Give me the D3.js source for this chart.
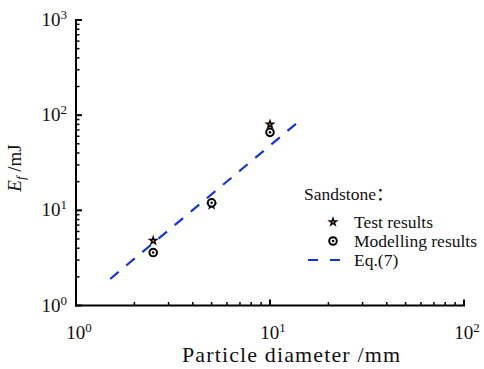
<!DOCTYPE html>
<html>
<head>
<meta charset="utf-8">
<script src="https://cdn.jsdelivr.net/npm/d3@7/dist/d3.min.js"></script>
</head>
<body style="margin:0">
<svg id="chart" width="484" height="369"></svg>
<script>
// Sandstone: fracture energy vs particle diameter
const testDiameters = [2.5, 5, 10];
const testEnergy = [4.8, 11.4, 80];
const modelDiameters = [2.5, 5, 10];
const modelEnergy = [3.6, 12, 66];
const eqDiameters = [1.5, 14];
const eqEnergy = [1.9, 85];
const xTickValues = [1, 10, 100];
const yTickValues = [1, 10, 100, 1000];
const legendTitle = "Sandstone";
const legendLabels = ["Test results", "Modelling results", "Eq.(7)"];

const FONT = "'Liberation Serif', 'Times New Roman', Times, serif";
const svg = d3.select("#chart");
const x = d3.scaleLog().domain([1, 100]).range([76, 464]);
const y = d3.scaleLog().domain([1, 1000]).range([305.5, 20]);
const blue = "#1236d6";

// every label goes through here so it gets the serif face
function label(parent, size) {
  return parent.append("text")
    .attr("font-family", FONT)
    .style("font-family", FONT)
    .attr("font-size", size)
    .attr("fill", "#111");
}

// minor ticks between decades
function minorTicks(dom) {
  const out = [];
  for (let e = Math.log10(dom[0]); e < Math.log10(dom[1]); e++) {
    for (let k = 2; k <= 9; k++) out.push(k * Math.pow(10, e));
  }
  return out;
}

// x axis
const gx = svg.append("g");
gx.append("line").attr("x1", x(1) - 1).attr("x2", x(100) + 1)
  .attr("y1", y(1)).attr("y2", y(1)).attr("stroke", "#000").attr("stroke-width", 2);
gx.selectAll("line.minor").data(minorTicks([1, 100])).join("line")
  .attr("class", "minor")
  .attr("x1", d => x(d)).attr("x2", d => x(d))
  .attr("y1", y(1)).attr("y2", y(1) - 3.5)
  .attr("stroke", "#000").attr("stroke-width", 1.5);
gx.selectAll("line.major").data(xTickValues).join("line")
  .attr("class", "major")
  .attr("x1", d => x(d)).attr("x2", d => x(d))
  .attr("y1", y(1)).attr("y2", y(1) - 6)
  .attr("stroke", "#000").attr("stroke-width", 2);

// y axis
const gy = svg.append("g");
gy.append("line").attr("x1", x(1)).attr("x2", x(1))
  .attr("y1", y(1) + 1).attr("y2", y(1000) - 1).attr("stroke", "#000").attr("stroke-width", 2);
gy.selectAll("line.minor").data(minorTicks([1, 1000])).join("line")
  .attr("class", "minor")
  .attr("x1", x(1)).attr("x2", x(1) + 3.5)
  .attr("y1", d => y(d)).attr("y2", d => y(d))
  .attr("stroke", "#000").attr("stroke-width", 1.5);
gy.selectAll("line.major").data(yTickValues).join("line")
  .attr("class", "major")
  .attr("x1", x(1)).attr("x2", x(1) + 6)
  .attr("y1", d => y(d)).attr("y2", d => y(d))
  .attr("stroke", "#000").attr("stroke-width", 2);

// tick labels as 10^n
function powLabel(t, v) {
  t.append("tspan").text("10");
  t.append("tspan").attr("dy", -7).attr("font-size", 13).text(Math.round(Math.log10(v)));
}
const gxl = svg.append("g");
xTickValues.forEach(v => {
  const t = label(gxl, 19).attr("x", x(v) + 3).attr("y", 339).attr("text-anchor", "middle");
  powLabel(t, v);
});
const gyl = svg.append("g");
yTickValues.forEach(v => {
  const t = label(gyl, 19).attr("x", 67).attr("y", y(v) + 6).attr("text-anchor", "end");
  powLabel(t, v);
});

// axis titles
label(svg, 22).attr("x", 182).attr("y", 362)
  .attr("textLength", 218).attr("lengthAdjust", "spacing")
  .text("Particle diameter /mm");
const yt = label(svg, 19).attr("transform", "translate(21,168) rotate(-90)")
  .attr("text-anchor", "middle");
yt.append("tspan").attr("font-style", "italic").text("E");
yt.append("tspan").attr("font-style", "italic").attr("font-size", 13).attr("dy", 4).text("f");
yt.append("tspan").attr("dy", -4).text(" /mJ");

// Eq.(7) fit line
const line = d3.line().x(d => x(d[0])).y(d => y(d[1]));
svg.append("path")
  .datum(d3.zip(eqDiameters, eqEnergy))
  .attr("d", line)
  .attr("fill", "none").attr("stroke", blue).attr("stroke-width", 2.2)
  .attr("stroke-dasharray", "11,10");

// markers
const star = d3.symbol().type(d3.symbolStar).size(40);
function drawStar(g) {
  g.append("path").attr("d", star).attr("fill", "#000");
  g.append("circle").attr("r", 1).attr("fill", "#d8661c");
}
function drawRing(g) {
  g.append("circle").attr("r", 3.8).attr("fill", "#fff").attr("stroke", "#000").attr("stroke-width", 2);
  g.append("circle").attr("r", 1.3).attr("fill", "#000");
}
svg.append("g").selectAll("g").data(d3.zip(testDiameters, testEnergy)).join("g")
  .attr("transform", d => `translate(${x(d[0])},${y(d[1])})`)
  .each(function () { drawStar(d3.select(this)); });
svg.append("g").selectAll("g").data(d3.zip(modelDiameters, modelEnergy)).join("g")
  .attr("transform", d => `translate(${x(d[0])},${y(d[1])})`)
  .each(function () { drawRing(d3.select(this)); });

// legend
const lg = svg.append("g");
const lt = label(lg, 17.5).attr("x", 304).attr("y", 200);
lt.append("tspan").text(legendTitle);
lt.append("tspan").style("font-family", "'Noto Sans CJK SC', " + FONT).text("：");
const rows = [222, 241, 260];
legendLabels.forEach((d, i) => {
  label(lg, 17.5).attr("x", 354).attr("y", rows[i] + 6).text(d);
});
drawStar(lg.append("g").attr("transform", `translate(333,${rows[0]})`));
drawRing(lg.append("g").attr("transform", `translate(333,${rows[1]})`));
lg.append("line").attr("x1", 308).attr("x2", 350).attr("y1", rows[2]).attr("y2", rows[2])
  .attr("stroke", blue).attr("stroke-width", 2.2).attr("stroke-dasharray", "10,12");
</script>
</body>
</html>
